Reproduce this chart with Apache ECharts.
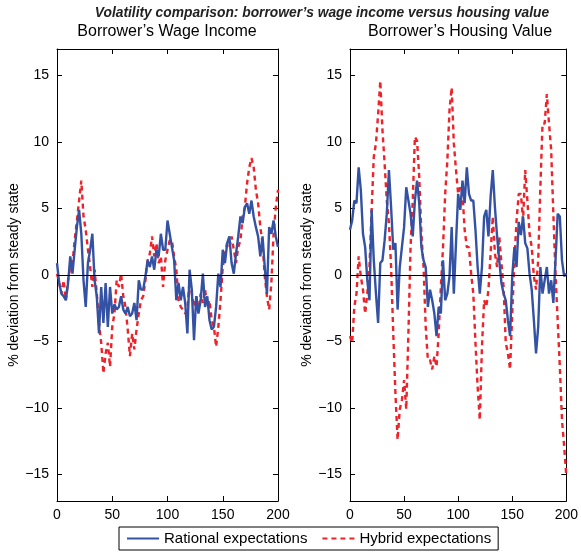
<!DOCTYPE html>
<html>
<head>
<meta charset="utf-8">
<script src="https://cdn.jsdelivr.net/npm/echarts@6/dist/echarts.min.js"></script>
<style>
html, body { margin: 0; padding: 0; background: #fff; }
#chart { width: 581px; height: 553px; }
</style>
</head>
<body>
<div id="chart"></div>
<script>
// simulated periods, one reading every 2 periods
var periods = [];
for (var p = 0; p <= 200; p += 2) periods.push(p);

var xTicks = [0, 50, 100, 150, 200];
var yTicks = [-15, -10, -5, 0, 5, 10, 15];

// borrower's wage income (% deviation)
var wageRational = [
    0.9, -0.6, -1.4, -1.6, -1.9, -0.6, 1.4, 0.1, 1.9, 3.6, 4.9, 3.1, -0.4, -2.4, 0.9, 1.9, 3.1, -0.4, -1.6, -4.4, -0.9, -3.6, -0.6, -3.9, -0.9, -2.9,
    -2.2, -2.6, -2.4, -1.6, -2.6, -2.9, -2.4, -3.1, -2.9, -2.1, -3.4, -0.4, -1.1, -1.1, -0.1, 1.1, 0.6, 1.4, 0.4, 1.9, 1.4, 3.1, 1.9, 1.9, 4.1, 3.1, 2.1,
    1.1, -1.9, -0.6, -1.9, -0.9, -2.1, -4.4, 0.4, -1.1, -4.9, -1.6, -2.9, -1.9, 0.1, -2.4, -1.6, -3.4, -4.1, -3.9, -2.4, 0.1, -0.9, 1.9, 0.9, 2.4,
    2.9, 0.9, 0.1, 1.6, 2.9, 4.4, 3.9, 5.1, 5.4, 4.6, 5.6, 4.4, 3.6, 2.9, 1.4, 2.9, 0.6, -1.4, 3.6, 3.1, 4.1, 2.9, 2.1
];
var wageHybrid = [
    0.1, -0.6, -1.4, -0.4, -1.9, -0.4, 0.6, 0.9, 2.6, 4.1, 5.6, 7.1, 4.4, 3.4, 1.9, 0.6, -0.9, 0.4, -1.4, -3.6, -5.1, -7.4, -5.9, -5.1, -6.9, -3.9,
    -2.9, -0.4, -0.9, 0.1, -1.6, -2.4, -4.1, -6.1, -4.4, -5.6, -4.1, -2.9, -1.9, -1.6, -0.4, 1.1, 1.6, 2.9, 1.4, 2.4, 0.9, 1.4, -0.9, 1.1, 1.9, 2.6, 2.6,
    1.4, 0.4, -1.9, -2.4, -2.6, -2.9, -2.6, -0.4, -1.4, -2.4, -1.6, -2.6, -1.4, -2.1, -1.1, -2.4, -1.9, -3.4, -3.9, -5.4, -3.9, -1.9, 0.6, 1.6, 2.4,
    2.1, 2.9, 1.9, 0.9, 2.1, 2.6, 4.4, 5.1, 6.9, 8.1, 8.8, 8.1, 6.4, 5.4, 3.6, 2.4, -0.1, -1.6, -2.6, -0.6, 3.1, 5.1, 6.4
];

// borrower's housing value (% deviation)
var housingRational = [
    3.4, 4.1, 5.6, 5.4, 8.1, 6.4, 3.1, 2.1, -0.4, -1.9, 4.9, 1.1, -1.4, -3.6, 0.9, 1.1, 2.6, 4.6, 7.9, 5.1, 1.9, 2.4, -2.6, 0.6, 2.1, 3.6,
    6.6, 5.6, 4.6, 2.9, 5.6, 7.1, 5.4, 2.1, 1.1, 0.6, -2.4, -1.1, -1.9, -2.9, -4.6, -2.4, -2.9, 1.1, -1.9, -1.4, -0.1, 3.6, -1.4, 2.4, 6.1, 4.9, 7.1,
    5.4, 8.1, 6.1, 5.6, 5.6, 3.4, 0.6, -1.4, 0.6, 4.4, 4.9, 2.9, 5.9, 7.9, 5.1, 2.9, 1.1, -0.6, -1.4, -1.9, -3.4, -4.6, -0.1, 2.1, 0.6,
    4.0, 3.0, 4.4, 2.4, 2.0, 0.1, -1.1, -3.4, -5.9, -3.9, 0.6, -1.4, -0.4, 0.6, -1.4, -0.4, -2.1, 1.1, 4.6, 4.4, 1.1, -0.1, 0.1
];
var housingHybrid = [
    -4.6, -5.1, -2.4, -1.4, 1.4, -0.1, -1.1, -2.9, -1.4, 0.6, 4.9, 8.9, 9.9, 12.1, 14.6, 10.9, 8.4, 5.6, 3.9, 0.6, -4.4, -8.9, -12.4, -10.1, -9.4, -7.9,
    -10.1, -4.4, 2.1, 5.6, 10.4, 10.1, 7.4, 3.1, 0.6, -3.9, -6.4, -6.4, -7.1, -6.1, -6.9, -4.4, -0.9, 2.1, 6.1, 8.6, 12.4, 14.1, 9.9, 7.9, 6.1, 6.6, 6.1,
    3.4, 2.1, 2.1, 0.1, -1.4, -5.1, -8.4, -10.9, -5.4, -1.9, -2.4, -1.1, 1.6, 4.4, 1.6, 0.6, 2.9, 0.9, -0.9, -5.1, -5.9, -7.1, -2.9, 1.1, 4.1,
    6.1, 6.1, 4.1, 7.9, 5.6, 3.1, 2.1, -0.1, -1.1, 1.1, 6.6, 11.4, 11.4, 13.6, 11.4, 9.4, 4.6, 0.1, -3.4, -6.9, -10.9, -12.9, -15.1
];

var BLUE = '#3452a3';
var RED = '#ee2229';
var FONT = '"Liberation Sans", Arial, sans-serif';

function pairs(vals) {
    var out = [];
    for (var i = 0; i < vals.length; i++) out.push([periods[i], vals[i]]);
    return out;
}

function xAxisFor(grid, pos) {
    return {
        type: 'value', gridIndex: grid, position: pos,
        min: 0, max: 200, interval: 50,
        axisLine: { show: true, onZero: false, lineStyle: { color: '#000', width: 1 } },
        axisTick: { show: true, inside: true, length: 5, lineStyle: { color: '#000' } },
        axisLabel: { show: pos === 'bottom', color: '#000', fontSize: 14, fontFamily: FONT, margin: 7 },
        splitLine: { show: false }
    };
}

function yAxisFor(grid, pos) {
    return {
        type: 'value', gridIndex: grid, position: pos,
        min: -17, max: 17,
        name: pos === 'left' ? '% deviation from steady state' : '',
        nameLocation: 'middle', nameGap: 34,
        nameTextStyle: { color: '#000', fontSize: 14, fontFamily: FONT },
        axisLine: { show: true, onZero: false, lineStyle: { color: '#000', width: 1 } },
        axisTick: { show: true, inside: true, length: 5, customValues: yTicks, lineStyle: { color: '#000' } },
        axisLabel: {
            show: pos === 'left', customValues: yTicks, color: '#000', fontSize: 14, fontFamily: FONT, margin: 8,
            formatter: function (v) { return String(v).replace('-', '\u2212'); }
        },
        splitLine: { show: false }
    };
}

function lineSeries(name, vals, axis, color, dashed, zero) {
    var s = {
        name: name, type: 'line', xAxisIndex: axis, yAxisIndex: axis,
        data: pairs(vals), symbol: 'none', showSymbol: false,
        lineStyle: { color: color, width: 2.4, type: dashed ? [5, 4] : 'solid' },
        itemStyle: { color: color },
        animation: false
    };
    if (zero) {
        s.markLine = {
            silent: true, symbol: ['none', 'none'], label: { show: false },
            lineStyle: { color: '#000', width: 1, type: 'solid' },
            data: [{ yAxis: 0 }]
        };
    }
    return s;
}

var myChart = echarts.init(document.getElementById('chart'));
var option = {
    backgroundColor: '#fff',
    animation: false,
    textStyle: { fontFamily: FONT },
    graphic: [
        { type: 'text', x: 322, y: 13,
          style: { text: 'Volatility comparison: borrower\u2019s wage income versus housing value',
                   font: 'italic bold 13.8px ' + FONT, fill: '#222', align: 'center', verticalAlign: 'middle' } },
        { type: 'text', x: 167, y: 32,
          style: { text: 'Borrower\u2019s Wage Income', font: '16px ' + FONT, fill: '#000', align: 'center', verticalAlign: 'middle' } },
        { type: 'text', x: 460, y: 32,
          style: { text: 'Borrower\u2019s Housing Value', font: '16px ' + FONT, fill: '#000', align: 'center', verticalAlign: 'middle' } }
    ],
    grid: [
        { left: 57, top: 49, width: 221, height: 452 },
        { left: 350, top: 49, width: 220, height: 452 }
    ],
    legend: {
        left: 119, top: 527,
        padding: [4, 7, 4, 7], itemGap: 14, itemWidth: 32, itemHeight: 15,
        borderColor: '#000', borderWidth: 1, backgroundColor: '#fff',
        itemStyle: { opacity: 0 },
        textStyle: { color: '#000', fontSize: 15, fontFamily: FONT },
        data: ['Rational expectations', 'Hybrid expectations']
    },
    xAxis: [xAxisFor(0, 'bottom'), xAxisFor(0, 'top'), xAxisFor(1, 'bottom'), xAxisFor(1, 'top')],
    yAxis: [yAxisFor(0, 'left'), yAxisFor(0, 'right'), yAxisFor(1, 'left'), yAxisFor(1, 'right')],
    series: [
        lineSeries('Hybrid expectations', wageHybrid, 0, RED, true, true),
        lineSeries('Rational expectations', wageRational, 0, BLUE, false, false),
        lineSeries('Hybrid expectations', housingHybrid, 2, RED, true, true),
        lineSeries('Rational expectations', housingRational, 2, BLUE, false, false)
    ]
};
myChart.setOption(option);
</script>
</body>
</html>
